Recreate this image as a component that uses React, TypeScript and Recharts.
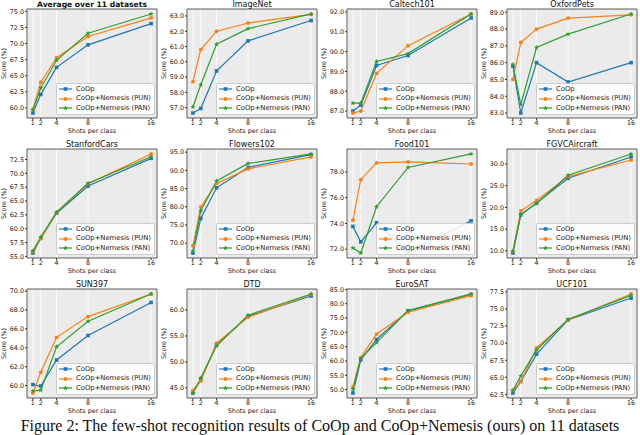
import React from 'react'
import { LineChart, Line, XAxis, YAxis, CartesianGrid, ReferenceArea, Legend } from 'recharts'

const FONT = '"DejaVu Sans", sans-serif'
const BLUE = '#1f77b4'
const ORANGE = '#ff7f0e'
const GREEN = '#2ca02c'

const shots = [1, 2, 4, 8, 16]
const seriesNames = ['CoOp', 'CoOp+Nemesis (PUN)', 'CoOp+Nemesis (PAN)']

const avgCoop = [59.2, 62.1, 66.3, 69.8, 73.1]
const avgPun = [59.8, 64.0, 67.8, 71.1, 74.0]
const avgPan = [59.7, 63.1, 67.4, 71.6, 74.6]
const avgTicks = [60, 62.5, 65, 67.5, 70, 72.5, 75]

const imagenetCoop = [56.65, 56.95, 59.4, 61.37, 62.7]
const imagenetPun = [58.7, 60.8, 62.0, 62.54, 63.1]
const imagenetPan = [57.05, 58.5, 61.15, 62.17, 63.13]
const imagenetTicks = [57, 58, 59, 60, 61, 62, 63]

const caltechCoop = [87.0, 87.3, 89.3, 89.8, 91.7]
const caltechPun = [86.9, 87.0, 88.9, 90.3, 91.9]
const caltechPan = [87.4, 87.4, 89.5, 89.9, 91.9]
const caltechTicks = [87, 88, 89, 90, 91, 92]

const petsCoop = [85.8, 83.0, 86.0, 84.85, 86.0]
const petsPun = [85.0, 87.2, 88.0, 88.65, 88.85]
const petsPan = [85.9, 83.5, 86.9, 87.7, 88.9]
const petsTicks = [83, 84, 85, 86, 87, 88, 89]

const carsCoop = [55.6, 58.3, 62.8, 67.7, 72.7]
const carsPun = [55.9, 58.2, 62.9, 68.1, 73.5]
const carsPan = [56.0, 58.5, 63.0, 68.2, 73.0]
const carsTicks = [55, 57.5, 60, 62.5, 65, 67.5, 70, 72.5]

const flowersCoop = [67.3, 76.8, 85.2, 90.8, 94.3]
const flowersPun = [69.3, 80.0, 86.4, 90.4, 93.7]
const flowersPan = [67.8, 78.9, 87.1, 91.9, 94.5]
const flowersTicks = [70, 75, 80, 85, 90, 95]

const foodCoop = [73.77, 72.57, 74.05, 71.8, 74.2]
const foodPun = [74.25, 77.4, 78.7, 78.78, 78.62]
const foodPan = [72.1, 71.7, 75.3, 78.35, 79.4]
const foodTicks = [72, 74, 76, 78]

const aircraftCoop = [9.5, 18.3, 21.0, 26.7, 31.6]
const aircraftPun = [9.9, 19.2, 21.6, 27.1, 30.9]
const aircraftPan = [9.9, 18.4, 20.9, 27.4, 32.3]
const aircraftTicks = [10, 15, 20, 25, 30]

const sunCoop = [60.1, 59.95, 62.7, 65.3, 68.8]
const sunPun = [59.2, 61.4, 65.1, 67.3, 69.7]
const sunPan = [59.4, 59.5, 64.1, 66.8, 69.7]
const sunTicks = [60, 62, 64, 66, 68, 70]

const dtdCoop = [44.0, 46.7, 53.3, 58.8, 62.7]
const dtdPun = [44.5, 46.3, 53.6, 58.6, 63.0]
const dtdPan = [44.0, 46.9, 53.1, 59.0, 63.1]
const dtdTicks = [45, 50, 55, 60]

const eurosatCoop = [48.8, 60.4, 67.5, 77.5, 83.2]
const eurosatPun = [51.0, 61.2, 69.4, 77.0, 82.8]
const eurosatPan = [50.2, 61.0, 66.4, 77.6, 83.4]
const eurosatTicks = [50, 55, 60, 65, 70, 75, 80, 85]

const ucfCoop = [62.7, 64.4, 68.4, 73.4, 76.6]
const ucfPun = [63.1, 64.4, 69.3, 73.4, 77.2]
const ucfPan = [63.1, 65.2, 69.0, 73.5, 77.0]
const ucfTicks = [62.5, 65, 67.5, 70, 72.5, 75, 77.5]

const panels = [
  { title: 'Average over 11 datasets', bold: true, coop: avgCoop, pun: avgPun, pan: avgPan, ticks: avgTicks },
  { title: 'ImageNet', coop: imagenetCoop, pun: imagenetPun, pan: imagenetPan, ticks: imagenetTicks },
  { title: 'Caltech101', coop: caltechCoop, pun: caltechPun, pan: caltechPan, ticks: caltechTicks },
  { title: 'OxfordPets', coop: petsCoop, pun: petsPun, pan: petsPan, ticks: petsTicks },
  { title: 'StanfordCars', coop: carsCoop, pun: carsPun, pan: carsPan, ticks: carsTicks },
  { title: 'Flowers102', coop: flowersCoop, pun: flowersPun, pan: flowersPan, ticks: flowersTicks },
  { title: 'Food101', coop: foodCoop, pun: foodPun, pan: foodPan, ticks: foodTicks },
  { title: 'FGVCAircraft', coop: aircraftCoop, pun: aircraftPun, pan: aircraftPan, ticks: aircraftTicks },
  { title: 'SUN397', coop: sunCoop, pun: sunPun, pan: sunPan, ticks: sunTicks },
  { title: 'DTD', coop: dtdCoop, pun: dtdPun, pan: dtdPan, ticks: dtdTicks },
  { title: 'EuroSAT', coop: eurosatCoop, pun: eurosatPun, pan: eurosatPan, ticks: eurosatTicks },
  { title: 'UCF101', coop: ucfCoop, pun: ucfPun, pan: ucfPan, ticks: ucfTicks },
]

// marker shapes (square / circle / star like matplotlib s, o, *)
function marker(kind: string, cx: number, cy: number, key?: string) {
  if (kind === 'square')
    return <rect key={key} x={cx - 1.8} y={cy - 1.8} width={3.6} height={3.6} fill={BLUE} />
  if (kind === 'circle') return <circle key={key} cx={cx} cy={cy} r={1.9} fill={ORANGE} />
  const pts: string[] = []
  for (let i = 0; i < 10; i++) {
    const r = i % 2 === 0 ? 2.7 : 1.15
    const a = -Math.PI / 2 + (i * Math.PI) / 5
    pts.push(`${cx + r * Math.cos(a)},${cy + r * Math.sin(a)}`)
  }
  return <polygon key={key} points={pts.join(' ')} fill={GREEN} />
}

const dotFor = (kind: string) => (p: any) =>
  p.cx == null ? <g key={`e-${p.index}`} /> : marker(kind, p.cx, p.cy, `${kind}-${p.index}`)

const legendItems = [
  { name: seriesNames[0], color: BLUE, kind: 'square' },
  { name: seriesNames[1], color: ORANGE, kind: 'circle' },
  { name: seriesNames[2], color: GREEN, kind: 'star' },
]

function LegendBox() {
  return (
    <div
      style={{
        background: 'rgba(255,255,255,0.85)',
        border: '0.8px solid #cccccc',
        borderRadius: 2,
        padding: '1px 3px 1px 2px',
        fontFamily: FONT,
        fontSize: 6.8,
        lineHeight: '9.4px',
        color: '#222',
      }}
    >
      {legendItems.map((it) => (
        <div key={it.name} style={{ display: 'flex', alignItems: 'center', whiteSpace: 'nowrap' }}>
          <svg width={13} height={6} style={{ marginRight: 4 }}>
            <line x1={0} y1={3} x2={13} y2={3} stroke={it.color} strokeWidth={1.2} />
            {marker(it.kind, 6.5, 3)}
          </svg>
          <span>{it.name}</span>
        </div>
      ))}
    </div>
  )
}

function Panel({ title, bold, coop, pun, pan, ticks }: any) {
  const data = shots.map((s, i) => ({ shot: s, coop: coop[i], pun: pun[i], pan: pan[i] }))
  const all = [...coop, ...pun, ...pan]
  const mn = Math.min(...all)
  const mx = Math.max(...all)
  const pad = (mx - mn) * 0.05
  const lo = mn - pad
  const hi = mx + pad
  const tickStyle = { fontSize: 6.4, fill: '#222', fontFamily: FONT }
  return (
    <div style={{ position: 'relative', width: 160, height: 140 }}>
      <div
        style={{
          position: 'absolute',
          left: 27,
          width: 130,
          top: 0,
          textAlign: 'center',
          fontFamily: FONT,
          fontSize: bold ? 7.6 : 8,
          lineHeight: '9px',
          fontWeight: bold ? 'bold' : 'normal',
          color: '#111',
          whiteSpace: 'nowrap',
        }}
      >
        {title}
      </div>
      <LineChart width={160} height={140} data={data} margin={{ top: 9, right: 3, bottom: 0, left: 0 }}>
        <CartesianGrid horizontal={false} stroke="#ffffff" strokeWidth={0.8} fill="#ebebeb" fillOpacity={1} />
        <XAxis
          dataKey="shot"
          type="number"
          domain={[0.25, 16.75]}
          ticks={shots}
          interval={0}
          allowDataOverflow
          height={22}
          tickSize={2}
          tickMargin={0}
          axisLine={false}
          tickLine={{ stroke: '#333' }}
          tick={tickStyle}
          label={{ value: 'Shots per class', position: 'insideBottom', offset: 7, style: { fontSize: 6.4, fill: '#222', fontFamily: FONT } }}
        />
        <YAxis
          type="number"
          domain={[lo, hi]}
          ticks={ticks}
          interval={0}
          allowDataOverflow
          width={27}
          tickSize={2}
          tickMargin={1}
          axisLine={false}
          tickLine={{ stroke: '#333' }}
          tick={tickStyle}
          tickFormatter={(v: number) => v.toFixed(1)}
          label={{ value: 'Score (%)', angle: -90, position: 'insideLeft', offset: 4, style: { textAnchor: 'middle', fontSize: 6.4, fill: '#222', fontFamily: FONT } }}
        />
        <Line dataKey="coop" stroke={BLUE} strokeWidth={1.2} dot={dotFor('square')} isAnimationActive={false} />
        <Line dataKey="pun" stroke={ORANGE} strokeWidth={1.2} dot={dotFor('circle')} isAnimationActive={false} />
        <Line dataKey="pan" stroke={GREEN} strokeWidth={1.2} dot={dotFor('star')} isAnimationActive={false} />
        <ReferenceArea x1={0.25} x2={16.75} y1={lo} y2={hi} fill="none" stroke="#333" strokeWidth={0.8} ifOverflow="visible" />
        <Legend
          layout="vertical"
          align="center"
          verticalAlign="middle"
          content={() => <LegendBox />}
          wrapperStyle={{ left: 'auto', top: 'auto', right: 5, bottom: 25, width: 'auto', height: 'auto' }}
        />
      </LineChart>
    </div>
  )
}

export default function App() {
  return (
    <div style={{ position: 'absolute', left: 0, top: 0, width: 640, height: 435, background: '#fff', overflow: 'hidden' }}>
      <div style={{ display: 'flex', flexWrap: 'wrap', width: 640 }}>
        {panels.map((p) => (
          <Panel key={p.title} {...p} />
        ))}
      </div>
      <div
        style={{
          position: 'absolute',
          top: 417,
          left: 0,
          width: 640,
          textAlign: 'center',
          fontFamily: '"Liberation Serif", serif',
          fontSize: 16,
          lineHeight: '18px',
          whiteSpace: 'nowrap',
          color: '#111',
        }}
      >
        Figure 2: The few-shot recognition results of CoOp and CoOp+Nemesis (ours) on 11 datasets
      </div>
    </div>
  )
}
